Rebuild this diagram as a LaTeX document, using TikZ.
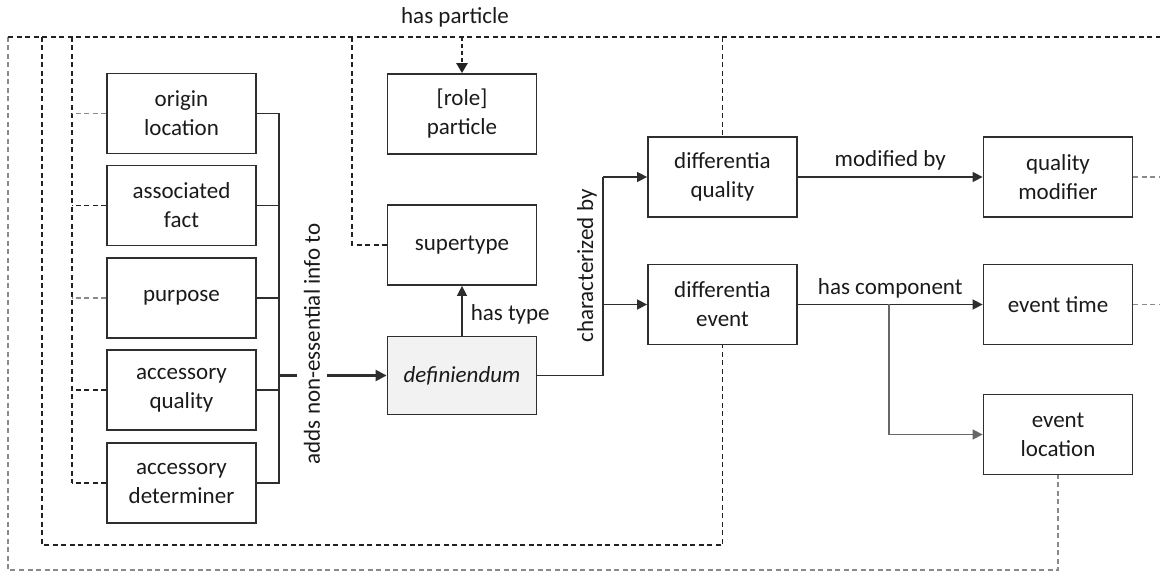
\documentclass[tikz,border=0pt]{standalone}
\usepackage{fontspec}
\setmainfont{Carlito}
\usetikzlibrary{arrows.meta}
\definecolor{txt}{HTML}{1A1A1A}
\definecolor{edge}{HTML}{2E2E2E}
\definecolor{dk}{HTML}{222222}
\definecolor{gr}{HTML}{8A8A8A}
\definecolor{fillg}{HTML}{F2F2F2}
\tikzset{
  box/.style={draw=edge, line width=1.8pt, minimum width=149pt, minimum height=80pt,
    align=center, inner sep=0pt, text=txt, font=\fontsize{23}{29}\selectfont},
  lbl/.style={text=txt, font=\fontsize{23}{28}\selectfont, inner sep=0pt},
  conn/.style={draw=edge, line width=1.5pt},
  arr/.style={conn, -{Triangle[length=10pt,width=10pt]}},
  dsh/.style={draw=dk, line width=1.2pt, dash pattern=on 5pt off 3.5pt},
  dshg/.style={draw=gr, line width=1.4pt, dash pattern=on 5pt off 3.5pt},
}
\begin{document}
\begin{tikzpicture}[x=1pt,y=-1pt]
\useasboundingbox (0,0) rectangle (1160,572);

% boxes
\node[box] (origin) at (181.5,113.5) {origin\\location};
\node[box] (assoc) at (181.5,205.5) {associated\\fact};
\node[box] (purpose) at (181.5,298) {purpose};
\node[box] (accq) at (181.5,390) {accessory\\quality};
\node[box] (accd) at (181.5,483) {accessory\\determiner};
\node[box] (role) at (462,114) {[role]\\particle};
\node[box] (super) at (462,245) {supertype};
\node[box, fill=fillg, minimum height=78pt] (defin) at (462,375.5) {\itshape definiendum};
\node[box] (dq) at (722.5,177) {differentia\\quality};
\node[box] (de) at (722.5,304.5) {differentia\\event};
\node[box] (qm) at (1058,177) {quality\\modifier};
\node[box] (et) at (1058,304.5) {event time};
\node[box] (el) at (1058,434.5) {event\\location};

% coordinates for dashed network
\coordinate (tl) at (8,37);
\coordinate (tr) at (1160,37);
\coordinate (v1) at (42,37);
\coordinate (v2) at (72,37);
\coordinate (v3) at (352,37);
\coordinate (v4) at (722.5,37);
\coordinate (vp) at (462,37);
\coordinate (ob) at (8,570);
\coordinate (ib) at (42,545);
\coordinate (v2b) at (72,483);
\coordinate (rq) at (1160,177);
\coordinate (rt) at (1160,304.5);

% dashed network
\draw[dshg] (tl) -- (ob) -- (ob -| el.south) -- (el.south);
\draw[dsh] (tl) -- (tr);
\draw[dsh] (v1) -- (ib) -- (ib -| de.south) -- (de.south);
\draw[dsh] (v2) -- (v2b);
\draw[dshg] (origin.west) -- (origin.west -| v2);
\draw[dsh] (assoc.west) -- (assoc.west -| v2);
\draw[dshg] (purpose.west) -- (purpose.west -| v2);
\draw[dsh] (accq.west) -- (accq.west -| v2);
\draw[dsh] (accd.west) -- (v2b);
\draw[dsh] (v3) -- (v3 |- super.west) -- (super.west);
\draw[dsh] (v4) -- (dq.north);
\draw[dshg] (qm.east) -- (rq);
\draw[dshg] (et.east) -- (rt);
\draw[draw=dk, line width=2.4pt, dash pattern=on 4pt off 3pt, -{Triangle[length=10pt,width=11pt]}] (vp) -- (role.north);
\node[lbl] (hp) at (455,17) {has particle};

% left bus
\draw[conn] (origin.east) -- ++(22,0) coordinate (b1) -- (b1 |- accd.east) -- (accd.east);
\draw[conn] (assoc.east) -- (assoc.east -| b1);
\draw[conn] (purpose.east) -- (purpose.east -| b1);
\draw[conn] (accq.east) -- (accq.east -| b1);
\draw[conn, line width=2.4pt, -{Triangle[length=11pt,width=11pt]}] (b1 |- defin.west) -- (defin.west);
\node[lbl, rotate=90, fill=white, inner ysep=7pt] (adds) at (312,344) {adds non-essential info to};

% has type
\draw[arr] (defin.north) -- (super.south) node[lbl, midway, right=8pt, yshift=-4pt] (ht) {has type};

% characterized by
\draw[conn] (defin.east) -- (603,375.5) coordinate (c1) -- (603,177) coordinate (c2);
\draw[arr] (c2) -- (dq.west);
\draw[arr] (c2 |- de.west) -- (de.west);
\node[lbl, rotate=90] (cb) at (587,266) {characterized by};

% right side
\draw[arr] (dq.east) -- (qm.west) node[lbl, midway, above=6pt] (mb) {modified by};
\draw[arr] (de.east) -- (et.west) node[lbl, midway, above=6pt] (hc) {has component};
\draw[arr, draw=gr!75!black] (889,304.5) coordinate (hb) -- (hb |- el.west) -- (el.west);
\end{tikzpicture}
\end{document}
